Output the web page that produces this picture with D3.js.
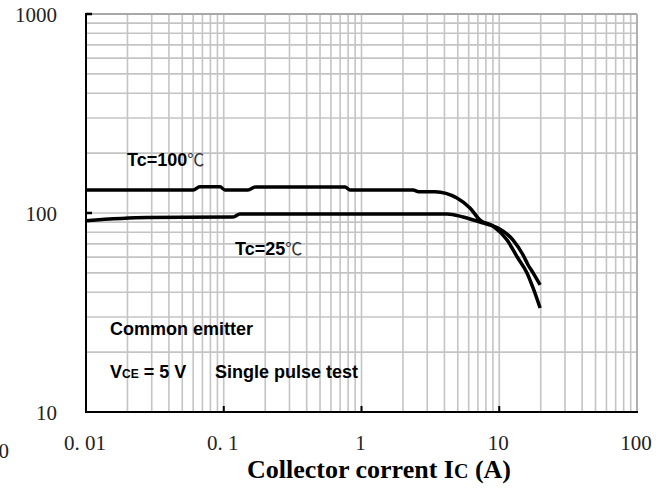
<!DOCTYPE html>
<html>
<head>
<meta charset="utf-8">
<script src="https://cdn.jsdelivr.net/npm/d3@7"></script>
<style>
  html, body { margin: 0; padding: 0; background: #fff; }
  svg { display: block; }
</style>
</head>
<body>
<svg id="chart" width="669" height="488"></svg>
<script>
// ---- data ----
const xTickValues = [0.01, 0.1, 1, 10, 100];
const xTickLabels = ["0. 01", "0. 1", "1", "10", "100"];
const yTickValues = [10, 100, 1000];
const yTickLabels = ["10", "100", "1000"];

const tc100Current = [0.01, 0.06, 0.067, 0.094, 0.102, 0.15, 0.169, 0.76, 0.825, 2.37, 2.6, 3.42, 4.93, 6.13, 7.25, 9.01, 11.4, 13.5, 15.9, 17.6, 19.8];
const tc100Hfe     = [130.5, 130.5, 135.5, 135.5, 130.5, 130.5, 135, 135, 130.5, 130.5, 128, 128, 119, 106, 92.2, 86, 73.1, 60.1, 50, 42, 33.3];

const tc25Current = [0.01, 0.0277, 0.117, 0.131, 4.18, 5.46, 7.25, 8.6, 9.8, 12.6, 14.9, 16.2, 17.6, 19.8];
const tc25Hfe     = [91.5, 94.9, 95.5, 98.9, 98.9, 95.5, 90.1, 87, 84, 73.1, 61.5, 54.8, 50, 43.5];

// ---- layout ----
const svg = d3.select("#chart");
const x = d3.scaleLog().domain([0.01, 100]).range([86, 637]);
const y = d3.scaleLog().domain([10, 1000]).range([412, 14]);

// grid values
const gridX = [], gridY = [];
[0.01, 0.1, 1, 10].forEach(d => { for (let k = 1; k <= 9; k++) { const v = d * k; if (v > 0.01) gridX.push(v); } });
gridX.push(100);
[10, 100].forEach(d => { for (let k = 1; k <= 9; k++) { const v = d * k; if (v > 10) gridY.push(v); } });
gridY.push(1000);

const grid = svg.append("g").attr("stroke", "#c4c4c4").attr("stroke-width", 1.6);
grid.selectAll("line.gx").data(gridX).enter().append("line")
  .attr("x1", d => x(d)).attr("x2", d => x(d)).attr("y1", y(1000)).attr("y2", y(10));
grid.selectAll("line.gy").data(gridY).enter().append("line")
  .attr("x1", x(0.01)).attr("x2", x(100)).attr("y1", d => y(d)).attr("y2", d => y(d));

// borders top/right (gray)
svg.append("line").attr("x1", x(0.01)).attr("x2", x(100)).attr("y1", y(1000)).attr("y2", y(1000))
  .attr("stroke", "#a8a8a8").attr("stroke-width", 2);
svg.append("line").attr("x1", x(100)).attr("x2", x(100)).attr("y1", y(1000)).attr("y2", y(10))
  .attr("stroke", "#b0b0b0").attr("stroke-width", 2);

// axes (black)
svg.append("line").attr("x1", x(0.01)).attr("x2", x(0.01)).attr("y1", y(1000) - 1).attr("y2", y(10) + 1)
  .attr("stroke", "#000").attr("stroke-width", 2);
svg.append("line").attr("x1", x(0.01) - 1).attr("x2", x(100) + 1).attr("y1", y(10)).attr("y2", y(10))
  .attr("stroke", "#000").attr("stroke-width", 2);

// inward ticks
svg.selectAll("line.yt").data([100, 1000]).enter().append("line")
  .attr("x1", x(0.01)).attr("x2", x(0.01) + 6).attr("y1", d => y(d)).attr("y2", d => y(d))
  .attr("stroke", "#000").attr("stroke-width", 2.5);
svg.selectAll("line.xt").data([0.1, 1, 10]).enter().append("line")
  .attr("x1", d => x(d)).attr("x2", d => x(d)).attr("y1", y(10)).attr("y2", y(10) - 6)
  .attr("stroke", "#000").attr("stroke-width", 2);

// tick labels
const serif = "'Liberation Serif', 'DejaVu Serif', serif";
svg.selectAll("text.yl").data(yTickValues).enter().append("text")
  .attr("x", 57).attr("y", d => y(d) + 8)
  .attr("text-anchor", "end").attr("font-family", serif).attr("font-size", 21).attr("fill", "#222")
  .text((d, i) => yTickLabels[i]);
svg.selectAll("text.xl").data(xTickValues).enter().append("text")
  .attr("x", d => x(d) - 1).attr("y", 450)
  .attr("text-anchor", "middle").attr("font-family", serif).attr("font-size", 21).attr("fill", "#222")
  .text((d, i) => xTickLabels[i]);
// stray cut-off label at left edge
svg.append("text").attr("x", 9).attr("y", 458).attr("text-anchor", "end")
  .attr("font-family", serif).attr("font-size", 21).attr("fill", "#222").text("0");

// x title
const title = svg.append("text").attr("x", 379).attr("y", 478).attr("text-anchor", "middle")
  .attr("font-family", serif).attr("font-weight", "bold").attr("font-size", 26).attr("fill", "#000");
title.append("tspan").text("Collector corrent I");
title.append("tspan").attr("font-size", 20).text("C");
title.append("tspan").text(" (A)");

// curves
const line = d3.line().x(d => x(d[0])).y(d => y(d[1])).curve(d3.curveMonotoneX);
const s100 = tc100Current.map((c, i) => [c, tc100Hfe[i]]);
const s25 = tc25Current.map((c, i) => [c, tc25Hfe[i]]);
[s100, s25].forEach(s => {
  svg.append("path").datum(s).attr("d", line).attr("fill", "none")
    .attr("stroke", "#000").attr("stroke-width", 3.5).attr("stroke-linejoin", "round");
});

// annotations
const sans = "'Liberation Sans', Arial, sans-serif";
function label(xp, yp, bold, deg) {
  const t = svg.append("text").attr("x", xp).attr("y", yp).attr("font-family", sans)
    .attr("font-size", 18).attr("font-weight", "bold").attr("fill", "#000");
  t.append("tspan").text(bold);
  if (deg) t.append("tspan").attr("font-weight", "normal").attr("font-family", "'Noto Sans CJK SC', sans-serif")
    .attr("font-size", 17).attr("fill", "#333").text("℃");
  return t;
}
label(127, 166, "Tc=100", true);
label(235, 255, "Tc=25", true);
label(110, 335, "Common emitter", false);
const v = svg.append("text").attr("x", 110).attr("y", 378).attr("font-family", sans)
  .attr("font-size", 18).attr("font-weight", "bold").attr("fill", "#000");
v.append("tspan").text("V");
v.append("tspan").attr("font-size", 12).text("CE");
v.append("tspan").text(" = 5 V");
svg.append("text").attr("x", 215).attr("y", 378).attr("font-family", sans)
  .attr("font-size", 18).attr("font-weight", "bold").attr("fill", "#000").text("Single pulse test");
</script>
</body>
</html>
